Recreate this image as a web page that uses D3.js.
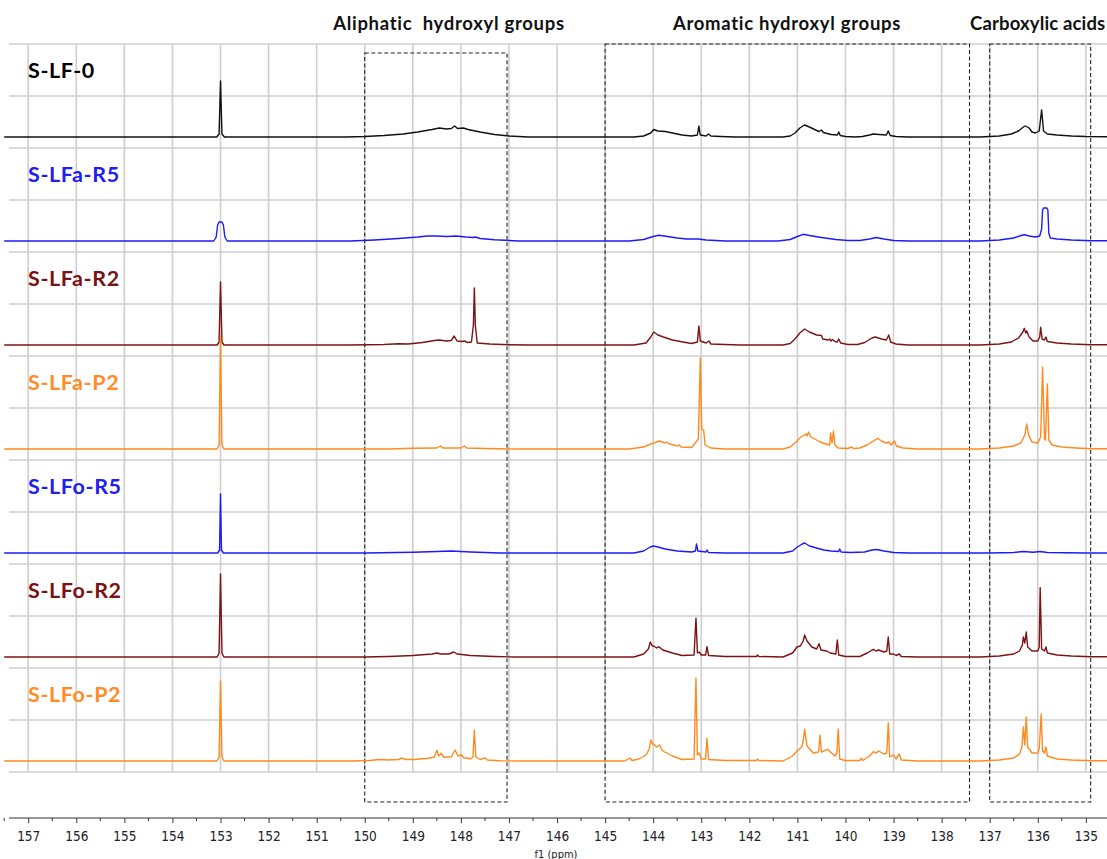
<!DOCTYPE html>
<html>
<head>
<meta charset="utf-8">
<script src="https://cdn.jsdelivr.net/npm/d3@7"></script>
<style>
  html, body { margin: 0; padding: 0; background: #fff; }
  svg { display: block; }
</style>
</head>
<body>
<svg id="chart" width="1107" height="859"></svg>
<script>
// 31P NMR spectra of the lignin samples, stacked top to bottom.
const sampleNames = ["S-LF-0", "S-LFa-R5", "S-LFa-R2", "S-LFa-P2", "S-LFo-R5", "S-LFo-R2", "S-LFo-P2"];
const sampleColors = ["#111111", "#1a1aff", "#7d1313", "#ff8a1e", "#1a1aff", "#7d1313", "#ff8a1e"];
const labelColors  = ["#000000", "#2020f0", "#7a1414", "#ff8c26", "#2020f0", "#7a1414", "#ff8c26"];

// Spectra as [ppm, intensity] points, high ppm to low ppm.
const specSLF0 = [
  [157.5,0],[153.08,0],[153.03,3],[153.0,56],[152.97,3],[152.92,0],
  [150.4,0],[150.0,0.5],[149.6,1.5],[149.2,3],[148.9,5],[148.6,7.5],[148.45,9],[148.3,8],[148.2,8.5],[148.13,11],[148.07,8.5],[147.95,9],[147.85,7.5],[147.6,5],[147.3,2.5],[147.0,1],[146.6,0],
  [144.4,0],[144.2,1],[144.05,4],[143.99,7.5],[143.9,6],[143.75,5.5],[143.6,4],[143.4,2],[143.2,1],[143.08,2],[143.05,11],[143.02,2],[142.9,1],[142.85,3],[142.8,1],[142.6,0.5],[142.3,0],
  [141.3,0],[141.15,1],[141.05,4],[140.95,9],[140.85,12],[140.75,10],[140.62,7],[140.55,5.5],[140.5,7],[140.46,4.5],[140.3,2.5],[140.17,2],[140.14,5],[140.11,1.5],[140.0,0.5],[139.8,0],
  [139.65,0.5],[139.5,2],[139.42,3],[139.3,2.5],[139.15,2],[139.11,6],[139.07,1.5],[138.95,0.5],[138.7,0],
  [137.2,0],[136.8,1],[136.55,3],[136.4,6],[136.3,10],[136.26,11],[136.22,10],[136.18,9],[136.12,5],[136.05,4],[135.97,6],[135.92,27],[135.88,6],[135.8,3],[135.6,2],[135.3,1],[135.0,0.5],[134.0,0]
];
const specSLFaR5 = [
  [157.5,0],[153.14,0],[153.09,4],[153.06,16],[153.03,19],[152.97,19],[152.94,16],[152.91,4],[152.86,0],
  [150.3,0],[149.8,1],[149.3,2.5],[148.9,4],[148.7,5],[148.5,5],[148.3,4.5],[148.1,5],[147.9,4],[147.75,3.5],[147.7,4],[147.6,2.5],[147.3,1.2],[146.8,0],
  [144.5,0],[144.2,1.5],[144.0,4.5],[143.88,5.7],[143.7,4.5],[143.5,3],[143.3,2],[143.06,2],[142.9,1],[142.5,0],
  [141.4,0],[141.15,1.5],[141.0,4.5],[140.88,6.7],[140.75,5.5],[140.5,3.5],[140.2,1.5],[139.95,0.5],[139.7,0.5],[139.5,2],[139.36,3.5],[139.2,2],[139.0,0.5],[138.7,0],
  [137.2,0],[136.8,1],[136.5,3],[136.35,5.5],[136.28,6.3],[136.18,5],[136.05,4],[135.96,5],[135.92,12],[135.9,31],[135.88,33],[135.81,33],[135.79,31],[135.77,8],[135.74,3],[135.6,2],[135.3,1],[134.9,0.3],[134.0,0]
];
const specSLFaR2 = [
  [157.5,0],[153.07,0],[153.03,3],[153.0,63],[152.97,3],[152.93,0],
  [150.3,0],[149.6,0.5],[149.3,1.2],[149.1,1],[148.8,2.5],[148.55,4.5],[148.45,5],[148.3,4],[148.2,4.5],[148.14,9],[148.08,4],[147.98,3.5],[147.93,4],[147.86,2.5],[147.78,3],[147.74,20],[147.72,57],[147.7,20],[147.66,2],[147.4,1],[147.0,0.3],[146.6,0],
  [144.4,0],[144.15,2],[144.05,8],[143.99,13],[143.9,10],[143.79,8],[143.6,5],[143.38,3],[143.2,1.5],[143.08,3],[143.05,19],[143.02,4],[142.9,2],[142.84,4],[142.8,1],[142.5,0.5],[142.2,0],
  [141.3,0],[141.15,1.5],[141.05,6],[140.95,12],[140.85,16],[140.75,13],[140.6,10],[140.5,9.5],[140.47,6],[140.36,5],[140.33,6],[140.3,4],[140.27,5.5],[140.22,3.5],[140.17,3],[140.14,6],[140.1,2],[139.95,0.5],
  [139.75,0.5],[139.6,2.5],[139.45,7],[139.38,8],[139.25,6],[139.15,5],[139.1,10],[139.06,3],[138.95,1],[138.7,0],
  [137.2,0],[136.8,1],[136.55,3],[136.4,7],[136.31,13],[136.28,16.7],[136.25,12],[136.23,14],[136.18,8],[136.1,4],[136.0,4],[135.96,8],[135.94,17.7],[135.91,6],[135.86,5],[135.83,8],[135.8,3.5],[135.6,2],[135.3,1],[134.9,0.3],[134.0,0]
];
const specSLFaP2 = [
  [157.5,0],[153.07,0],[153.03,4],[153.0,113],[152.97,4],[152.93,0],
  [149.5,0],[149.0,0.8],[148.5,1],[148.42,3],[148.38,1],[148.0,1],[147.93,3],[147.88,1],[147.5,0.5],[146.9,0],
  [144.5,0],[144.2,2],[144.05,5],[143.87,8],[143.76,6],[143.72,7],[143.66,5],[143.5,3],[143.46,4],[143.42,2],[143.2,1.5],[143.06,10],[143.02,91],[142.99,20],[142.95,19],[142.92,4],[142.8,1],[142.5,0],
  [141.3,0],[141.15,2],[141.05,6],[140.95,11],[140.86,14],[140.83,15],[140.8,13],[140.77,17],[140.72,12],[140.6,9],[140.53,7],[140.4,5],[140.33,4],[140.31,16],[140.28,6],[140.25,18],[140.22,4],[140.15,1],[139.95,0.5],[139.87,2],[139.84,0.5],
  [139.7,1],[139.55,4],[139.42,8],[139.33,10.6],[139.25,8],[139.15,6],[139.1,7],[139.05,4],[138.98,8],[138.94,3],[138.8,1],[138.5,0],
  [137.2,0],[136.8,1],[136.5,3],[136.35,6],[136.27,14],[136.23,25],[136.19,14],[136.12,7],[136.0,6],[135.94,12],[135.9,82],[135.86,10],[135.84,9],[135.8,65],[135.77,9],[135.7,4],[135.5,2],[135.2,1],[134.9,0.3],[134.0,0]
];
const specSLFoR5 = [
  [157.5,0],[153.06,0],[153.02,3],[153.0,59],[152.98,3],[152.94,0],
  [150.0,0],[149.0,0.8],[148.5,1.5],[148.2,2],[147.8,1],[147.2,0],
  [144.4,0],[144.2,2],[144.06,6],[144.0,7],[143.9,6],[143.75,4],[143.5,2],[143.2,1],[143.12,2],[143.1,9],[143.07,2],[142.9,1],[142.88,3],[142.85,0.5],[142.5,0],
  [141.3,0],[141.1,2],[141.0,6],[140.9,9],[140.85,10],[140.75,7],[140.6,5],[140.45,3],[140.3,2],[140.14,1.5],[140.12,4],[140.09,1],[139.9,0.5],[139.6,1],[139.45,3],[139.35,3.5],[139.2,2],[139.0,0.5],[138.7,0],
  [137.0,0],[136.5,0.5],[136.3,1.5],[136.1,0.8],[135.95,1.5],[135.8,0.5],[135.0,0],[134.0,0]
];
const specSLFoR2 = [
  [157.5,0],[153.07,0],[153.03,4],[153.0,83],[152.97,4],[152.93,0],
  [150.0,0],[149.5,0.5],[149.0,1.5],[148.6,3],[148.5,4],[148.42,3],[148.25,3],[148.15,5],[148.08,3],[147.8,1.5],[147.3,0.5],[146.9,0],
  [144.4,0],[144.2,3],[144.1,8],[144.06,15],[144.02,11],[143.99,11],[143.93,9],[143.88,10.3],[143.8,7],[143.6,4],[143.4,1.5],[143.15,2],[143.11,38.7],[143.08,4],[143.04,5],[143.0,2],[142.91,2],[142.88,10.3],[142.85,1.5],[142.5,0.5],[141.85,0.5],[141.83,2],[141.8,0.5],
  [141.3,0],[141.1,4],[141.01,10],[140.94,11],[140.88,16],[140.85,22],[140.8,16],[140.7,10],[140.6,8],[140.55,13.3],[140.51,7],[140.39,6],[140.32,4],[140.2,3],[140.17,17],[140.14,2],[140.0,0.5],
  [139.7,0.5],[139.55,4],[139.42,7.7],[139.36,6],[139.31,7],[139.2,5],[139.14,6],[139.11,20],[139.08,3],[139.0,3],[138.95,1.5],[138.88,3],[138.84,0.5],[138.5,0],
  [137.2,0],[136.8,1],[136.5,3],[136.38,6],[136.32,12],[136.3,20],[136.27,14],[136.24,25],[136.21,10],[136.12,6],[136.0,6],[135.97,10],[135.95,69.3],[135.92,8],[135.86,6],[135.83,10],[135.8,4],[135.6,2],[135.3,1],[134.9,0.3],[134.0,0]
];
const specSLFoP2 = [
  [157.5,0],[153.07,0],[153.03,4],[153.0,80],[152.97,4],[152.93,0],
  [150.3,0],[149.9,0.5],[149.71,1.5],[149.5,1],[149.3,1.5],[149.23,3],[149.15,1.5],[148.95,1.5],[148.87,2],[148.7,2.5],[148.55,4],[148.5,10.7],[148.46,5],[148.41,7.7],[148.36,4],[148.2,4],[148.12,11],[148.06,5],[147.99,6],[147.94,3],[147.88,3],[147.8,2],[147.75,4],[147.72,31],[147.69,4],[147.6,1.5],[147.5,3],[147.45,1],[147.2,0.3],[146.8,0],
  [144.6,0],[144.48,3],[144.44,0.5],[144.3,2],[144.15,6],[144.08,12],[144.05,21],[144.02,17],[143.99,17],[143.93,14],[143.87,16],[143.8,10],[143.6,5],[143.4,1.5],[143.15,2],[143.11,82.7],[143.08,6],[143.04,8],[143.0,2],[142.91,2],[142.88,22.7],[142.85,1.5],[142.5,0.5],[141.85,0.5],[141.83,2],[141.8,0.5],
  [141.3,0],[141.1,5],[141.01,10],[140.91,14],[140.88,20],[140.85,31.7],[140.8,15],[140.67,8],[140.56,9],[140.53,26],[140.5,9],[140.37,11.7],[140.31,9],[140.22,5],[140.18,8],[140.15,32],[140.12,2],[140.0,0.5],
  [139.7,0.5],[139.67,3],[139.64,0.5],[139.5,5],[139.42,9.3],[139.36,8],[139.31,10],[139.2,7],[139.14,8],[139.11,38.3],[139.08,4],[139.0,6],[138.95,2],[138.88,7],[138.84,1],[138.5,0],
  [137.2,0],[136.8,1],[136.5,3],[136.38,7],[136.33,14],[136.3,34],[136.27,16],[136.24,44],[136.21,14],[136.12,8],[136.0,8],[135.97,12],[135.93,47],[135.9,10],[135.86,8],[135.83,14],[135.8,5],[135.6,2],[135.3,1],[134.9,0.3],[134.0,0]
];
const spectra = [specSLF0, specSLFaR5, specSLFaR2, specSLFaP2, specSLFoR5, specSLFoR2, specSLFoP2];

// Integration regions (ppm ranges) and their headings.
const regionNames = ["Aliphatic\u00a0 hydroxyl groups", "Aromatic hydroxyl groups", "Carboxylic acids"];
const regionStart = [150.0, 145.0, 137.0];
const regionEnd   = [147.04, 137.42, 134.9];

const ppmTicks = d3.range(135, 158);
const ppmMinorTicks = d3.range(134.5, 158, 0.5);

const svg = d3.select("#chart");
const W = 1107, H = 859;

const x = d3.scaleLinear().domain([157.4, 134.56]).range([9, 1107]);

const gridTop = 44, rowH = 52, nRows = 14;
const gridBottom = gridTop + rowH * nRows;
const axisY = 818;
const firstBase = 137, traceStep = 104;

// grid
const grid = svg.append("g").attr("class", "grid");
grid.selectAll("line.h").data(d3.range(nRows + 1)).join("line")
  .attr("class", "h")
  .attr("x1", 9).attr("x2", W)
  .attr("y1", d => gridTop + d * rowH).attr("y2", d => gridTop + d * rowH)
  .attr("stroke", "#cfcfcf").attr("stroke-width", 1.6);
grid.selectAll("line.v").data(ppmTicks).join("line")
  .attr("class", "v")
  .attr("x1", d => x(d)).attr("x2", d => x(d))
  .attr("y1", gridTop).attr("y2", gridBottom)
  .attr("stroke", "#cfcfcf").attr("stroke-width", 1.6);

// region boxes
const boxTop = [53, 44, 44];
const boxBottom = 802;
svg.append("g").selectAll("rect").data(regionStart).join("rect")
  .attr("x", (d, i) => x(d))
  .attr("y", (d, i) => boxTop[i])
  .attr("width", (d, i) => x(regionEnd[i]) - x(d))
  .attr("height", (d, i) => boxBottom - boxTop[i])
  .attr("fill", "none")
  .attr("stroke", "#222")
  .attr("stroke-width", 1.1)
  .attr("stroke-dasharray", "4,2.5");

// spectra
const traces = svg.append("g");
spectra.forEach((spec, i) => {
  const base = firstBase + i * traceStep;
  const y = d3.scaleLinear().domain([0, 100]).range([base, base - 100]);
  const line = d3.line().x(d => x(d[0])).y(d => y(d[1]));
  traces.append("path")
    .datum(spec)
    .attr("d", line)
    .attr("fill", "none")
    .attr("stroke", sampleColors[i])
    .attr("stroke-width", 1.4)
    .attr("stroke-linejoin", "round");
});

// sample labels
svg.append("g").selectAll("text").data(sampleNames).join("text")
  .attr("x", 28)
  .attr("y", (d, i) => 78 + i * traceStep)
  .attr("fill", (d, i) => labelColors[i])
  .attr("font-family", "Lato, 'Open Sans', sans-serif")
  .attr("font-weight", "bold")
  .attr("font-size", 21.5)
  .attr("letter-spacing", 0.6)
  .text(d => d);

// region headings
const headX = [449, 787, 970];
const headAnchor = ["middle", "middle", "start"];
const headSpacing = [0.7, 0.7, 0.15];
svg.append("g").selectAll("text").data(regionNames).join("text")
  .attr("x", (d, i) => headX[i])
  .attr("y", 30)
  .attr("text-anchor", (d, i) => headAnchor[i])
  .attr("font-family", "Lato, 'Open Sans', sans-serif")
  .attr("font-weight", "bold")
  .attr("font-size", 18.5)
  .attr("letter-spacing", (d, i) => headSpacing[i])
  .attr("fill", "#111")
  .text(d => d);

// x axis
const axis = svg.append("g").attr("transform", `translate(0,${axisY})`);
axis.append("line").attr("x1", 9).attr("x2", W).attr("y1", 0).attr("y2", 0)
  .attr("stroke", "#333").attr("stroke-width", 1.2);
axis.selectAll("line.minor").data(ppmMinorTicks.filter(v => !Number.isInteger(v))).join("line")
  .attr("class", "minor")
  .attr("x1", d => x(d)).attr("x2", d => x(d))
  .attr("y1", 0).attr("y2", 3).attr("stroke", "#333");
const xAxis = d3.axisBottom(x).tickValues(ppmTicks).tickSize(5).tickPadding(8).tickFormat(d3.format("d"));
const ag = axis.append("g").call(xAxis);
ag.select(".domain").remove();
ag.selectAll(".tick line").attr("stroke", "#333");
ag.selectAll(".tick text")
  .attr("font-family", "'DejaVu Sans', sans-serif")
  .style("font-stretch", "condensed")
  .attr("font-size", 13.5)
  .attr("fill", "#222");

svg.append("text")
  .attr("x", 556).attr("y", 857.5)
  .attr("text-anchor", "middle")
  .attr("font-family", "'DejaVu Sans', sans-serif")
  .style("font-stretch", "condensed")
  .attr("font-size", 11)
  .attr("fill", "#222")
  .text("f1 (ppm)");
</script>
</body>
</html>
